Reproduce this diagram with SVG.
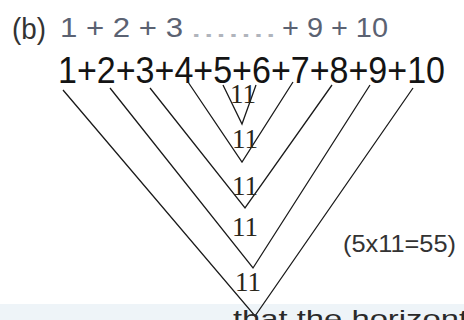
<svg xmlns="http://www.w3.org/2000/svg" width="464" height="320" viewBox="0 0 464 320">
<style>
.ln{stroke:#1a1a1a;stroke-width:1.3;fill:none;stroke-linejoin:miter}
.lab{font-family:"Liberation Serif",serif;font-size:27px;fill:#2a2618;text-anchor:middle}
.main{font-family:"Liberation Sans",Arial,sans-serif;font-size:36px;fill:#141414}
.top{font-family:"Liberation Sans",Arial,sans-serif;font-size:27px;fill:#5b6272}
.sub{font-family:"Liberation Sans",Arial,sans-serif;font-size:22px;fill:#333}
</style>
<rect width="464" height="320" fill="#ffffff"/>
<rect x="0" y="304" width="464" height="16" fill="#eef4f8"/>
<g id="heading">
<text class="sub" x="12" y="39" style="font-size:30px;fill:#333" textLength="34" lengthAdjust="spacingAndGlyphs">(b)</text>
<text class="top" x="60" y="37" textLength="123" lengthAdjust="spacingAndGlyphs">1 + 2 + 3</text>
<text class="top" x="190" y="37" style="fill:#b0b4bc" textLength="87" lengthAdjust="spacingAndGlyphs">.......</text>
<text class="top" x="282" y="37" textLength="106" lengthAdjust="spacingAndGlyphs">+ 9 + 10</text>
</g>
<g id="sum">
<text class="main" x="58" y="83" textLength="387" lengthAdjust="spacingAndGlyphs">1+2+3+4+5+6+7+8+9+10</text>
</g>
<g id="connectors">
<polyline class="ln" points="223,85 242,124 256,85"/>
<polyline class="ln" points="188,82 242,162 293,82"/>
<polyline class="ln" points="150,88 245,208 332,85"/>
<polyline class="ln" points="110,88 253,268 370,85"/>
<polyline class="ln" points="63,90 255,316 413,88"/>
</g>
<g id="label1"><text class="lab" x="243" y="103">11</text></g>
<g id="label2"><text class="lab" x="245" y="148">11</text></g>
<g id="label3"><text class="lab" x="245" y="195">11</text></g>
<g id="label4"><text class="lab" x="245" y="236">11</text></g>
<g id="label5"><text class="lab" x="248" y="291">11</text></g>
<g id="result">
<text class="sub" x="343" y="252" style="font-size:24px" textLength="113" lengthAdjust="spacingAndGlyphs">(5x11=55)</text>
</g>
<g id="footer">
<text class="sub" x="233" y="327" style="font-size:24px;fill:#2a2a2a" textLength="235" lengthAdjust="spacingAndGlyphs">that the  horizont</text>
</g>
</svg>
